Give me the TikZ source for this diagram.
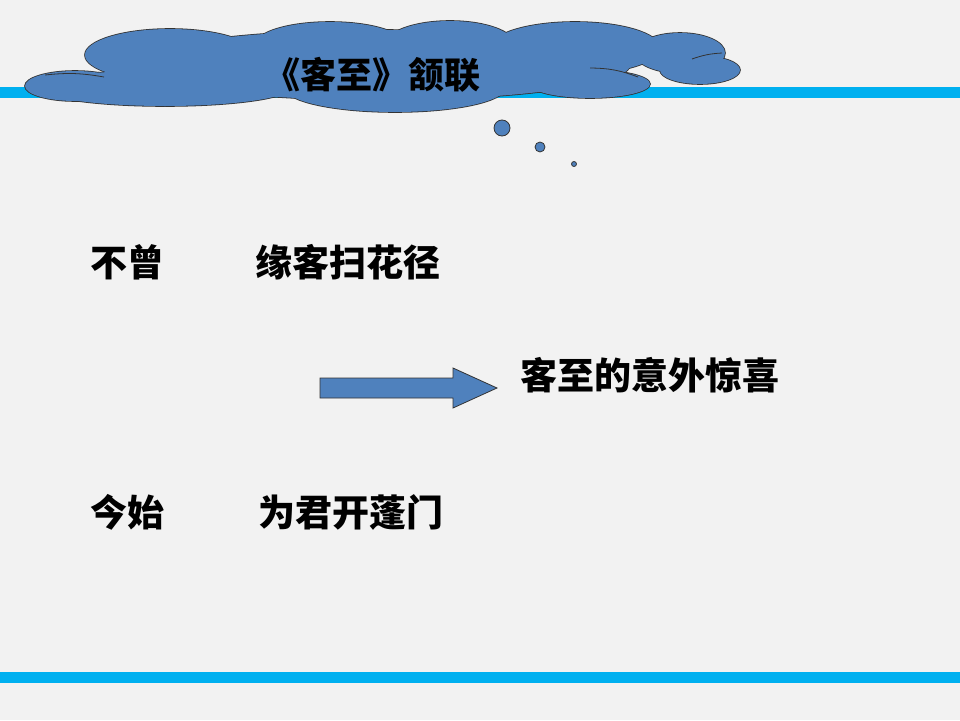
\documentclass[tikz,border=0pt]{standalone}
\usepackage{fontspec}
\setmainfont{Noto Sans CJK SC}
\definecolor{bg}{RGB}{242,242,242}
\definecolor{bar}{RGB}{0,176,240}
\definecolor{sky}{RGB}{79,129,189}
\definecolor{gold}{RGB}{240,196,60}
\begin{document}
\begin{tikzpicture}[x=1pt,y=-1pt,
  txt/.style={font=\fontsize{37}{40}\selectfont\bfseries,anchor=west,inner sep=0pt},
  blob/.style={draw=black!80,fill=sky,line width=0.8pt},
  puff/.style={draw=black!80,fill=sky,line width=1.6pt},
  crease/.style={draw=black!80,line width=0.8pt}]
\useasboundingbox[fill=bg] (0,0) rectangle (960,720);
%------------- bars
\fill[bar] (0,87) rectangle (960,98);
\fill[gold] (72,93) rectangle (140,98);
\fill[bar] (0,672) rectangle (960,683);
%------------- title cloud: puffs drawn, then filled again to hide inner edges
\def\puffs{75/86/50/15, 170/55/85/26, 165/88/125/18, 330/45/75/23, 450/45/65/24,
  575/48/85/26, 680/53/45/20, 700/70/40/14, 590/84/60/14, 395/88/110/24, 380/65/250/35}
\foreach \cx/\cy/\rx/\ry in \puffs
  \draw[puff] (\cx,\cy) ellipse [x radius=\rx, y radius=\ry];
\foreach \cx/\cy/\rx/\ry in \puffs
  \fill[sky] (\cx,\cy) ellipse [x radius=\rx, y radius=\ry];
\draw[crease] (45,75) to[bend left=8] (104,77);
\draw[crease] (590,68) to[bend left=10] (638,77);
\draw[crease] (692,59) to[bend left=8] (722,53);
\node[font=\fontsize{36}{40}\selectfont\bfseries,inner sep=0pt] (head) at (372,75) {《客至》颔联};
\fill[blob] (502,128) circle (8);
\fill[blob] (540,147) circle (5);
\fill[blob] (574,164) circle (2.5);
%------------- lines
\node[txt] (bu) at (90,262) {不曾};
\node[txt] (yuan) at (255,262) {缘客扫花径};
\node[txt] (jin) at (90,512) {今始};
\node[txt] (wei) at (258,512) {为君开蓬门};
\node[txt] (jing) at (520,375) {客至的意外惊喜};
%------------- block arrow
\draw[blob,line join=miter] (320,378) -- (453,378) -- (453,368) -- (497,388) -- (453,408) -- (453,398) -- (320,398) -- cycle;
\end{tikzpicture}
\end{document}
